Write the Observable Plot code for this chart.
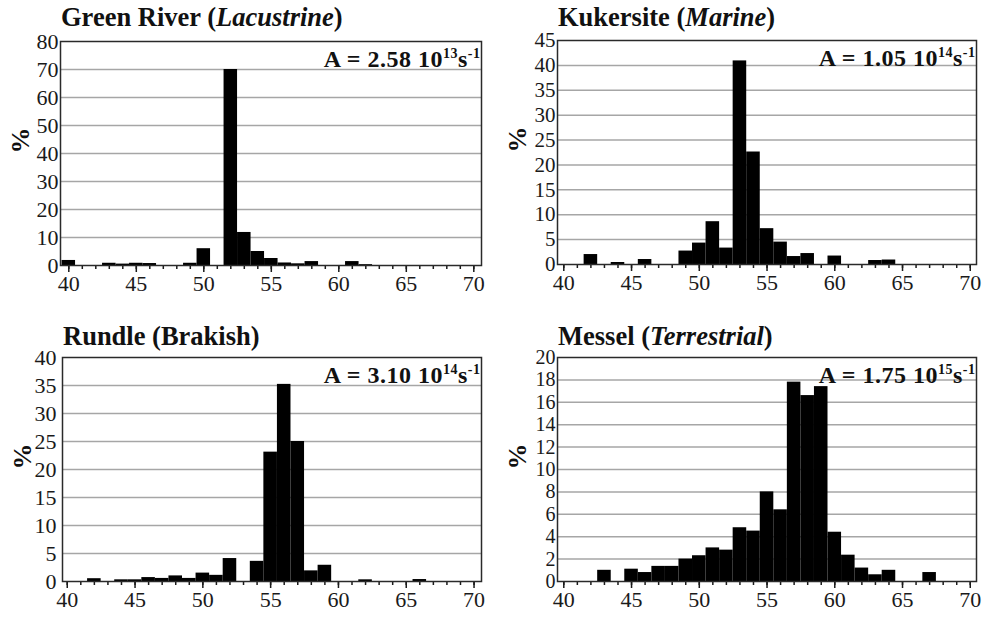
<!DOCTYPE html>
<html>
<head>
<meta charset="utf-8">
<script src="https://cdn.jsdelivr.net/npm/d3@7"></script>
<script src="https://cdn.jsdelivr.net/npm/@observablehq/plot@0.6"></script>
<style>
  html, body { margin: 0; padding: 0; background: #fff; }
  #page { position: relative; width: 984px; height: 619px; overflow: hidden; font-family: "Liberation Serif", "Times New Roman", serif; }
  .panel { position: absolute; width: 492px; }
  .panel svg, .panel svg text, .panel svg tspan { font-family: "Liberation Serif", "Times New Roman", serif !important; font-variant: normal !important; font-variant-numeric: normal !important; }
  .title { position: absolute; font-size: 26.5px; font-weight: bold; line-height: 27px; color: #111; white-space: nowrap; }
</style>
</head>
<body>
<div id="page"></div>
<script>
// ---- Data ----
const greenRiverBins = [40, 43, 44, 45, 46, 49, 50, 52, 53, 54, 55, 56, 57, 58, 61, 62];
const greenRiverPct  = [1.8, 0.8, 0.5, 0.8, 0.7, 0.8, 6.0, 70.0, 11.8, 5.0, 2.5, 0.9, 0.6, 1.4, 1.4, 0.3];

const kukersiteBins = [42, 44, 46, 49, 50, 51, 52, 53, 54, 55, 56, 57, 58, 60, 63, 64];
const kukersitePct  = [2.0, 0.4, 1.0, 2.7, 4.3, 8.6, 3.3, 40.9, 22.6, 7.2, 4.5, 1.6, 2.2, 1.7, 0.8, 0.9];

const rundleBins = [42, 44, 45, 46, 47, 48, 49, 50, 51, 52, 54, 55, 56, 57, 58, 59, 62, 66];
const rundlePct  = [0.5, 0.3, 0.3, 0.7, 0.55, 1.0, 0.55, 1.5, 1.1, 4.1, 3.6, 23.1, 35.2, 25.0, 1.9, 2.9, 0.3, 0.35];

const messelBins = [43, 45, 46, 47, 48, 49, 50, 51, 52, 53, 54, 55, 56, 57, 58, 59, 60, 61, 62, 63, 64, 67];
const messelPct  = [1.0, 1.1, 0.8, 1.35, 1.35, 2.0, 2.3, 3.0, 2.8, 4.8, 4.5, 8.0, 6.4, 17.8, 16.6, 17.4, 4.4, 2.35, 1.2, 0.6, 1.0, 0.8];

const titles   = ["Green River", "Kukersite", "Rundle", "Messel"];
const subtitles = ["Lacustrine", "Marine", "Brakish", "Terrestrial"];
const subItalic = [true, true, false, true];
const aMantissa = ["2.58", "1.05", "3.10", "1.75"];
const aExponent = ["13", "14", "14", "15"];
const yMax   = [80, 45, 40, 20];
const yStep  = [10, 5, 5, 2];
const xMajorTicks = [40, 45, 50, 55, 60, 65, 70];
const xMinorTicks = d3.range(40, 71, 1);

// ---- Layout (positions / margins) ----
const FONT = "'Liberation Serif', 'Times New Roman', serif";
const panels = [
  {bins: greenRiverBins, pct: greenRiverPct, left: 0,   top: 0,   mt: 41, mb: 40, ml: 60, mr: 11, xd: [39.385, 70.57], titleTop: 4,  yFont: 22, yPad: 2},
  {bins: kukersiteBins,  pct: kukersitePct,  left: 492, top: 0,   mt: 40, mb: 41, ml: 65, mr: 8,  xd: [39.535, 70.46], titleTop: 4,  yFont: 21, yPad: 2},
  {bins: rundleBins,     pct: rundlePct,     left: 0,   top: 310, mt: 47, mb: 34, ml: 62, mr: 11, xd: [39.65, 70.55],  titleTop: 13, yFont: 22, yPad: 6},
  {bins: messelBins,     pct: messelPct,     left: 492, top: 310, mt: 47, mb: 34, ml: 65, mr: 8,  xd: [39.535, 70.46], titleTop: 13, yFont: 20, yPad: 2}
];

const page = document.getElementById("page");

panels.forEach((p, i) => {
  const data = p.bins.map((b, j) => ({bin: b, pct: p.pct[j]}));
  const div = document.createElement("div");
  div.className = "panel";
  div.style.left = p.left + "px";
  div.style.top = p.top + "px";
  page.appendChild(div);

  const yTicks = d3.range(0, yMax[i] + 0.001, yStep[i]);
  const aLabel = `A = ${aMantissa[i]} 10`;

  const svg = Plot.plot({
    width: 492,
    height: 305,
    marginTop: p.mt,
    marginBottom: p.mb,
    marginLeft: p.ml,
    marginRight: p.mr,
    style: {fontFamily: FONT, fontSize: "22px", color: "#1a1a1a", background: "white"},
    x: {domain: p.xd},
    y: {domain: [0, yMax[i]]},
    marks: [
      Plot.gridY(yTicks.slice(1, -1), {stroke: "#a6a6a6", strokeOpacity: 1, strokeWidth: 1.5}),
      Plot.rectY(data, {x1: d => d.bin - 0.5, x2: d => d.bin + 0.5, y: "pct", fill: "black"}),
      Plot.axisY(yTicks, {tickSize: 0, tickPadding: p.yPad, fontSize: p.yFont, fontFamily: FONT, fontVariant: "normal", label: null}),
      Plot.axisX(xMinorTicks, {tickSize: 4, strokeWidth: 1.5, text: null, label: null}),
      Plot.axisX(xMajorTicks, {tickSize: 7, tickPadding: 3, strokeWidth: 1.5, fontSize: 22, fontFamily: FONT, fontVariant: "normal", label: null}),
      Plot.frame({stroke: "#2a2a2a", strokeWidth: 1.5}),
      Plot.text(["%"], {frameAnchor: "left", dx: -40, rotate: -90, fontWeight: "bold", fontSize: 26, fontFamily: FONT, fill: "#111"}),
      Plot.text([aLabel], {frameAnchor: "top-right", textAnchor: "end", lineAnchor: "top", dx: -1, dy: 8, fontWeight: "bold", fontSize: 24, fontFamily: FONT, fill: "#111"})
    ]
  });
  div.appendChild(svg);

  // make sure every SVG text uses the serif family
  d3.select(svg).selectAll("text").attr("font-family", FONT).attr("font-variant", null).style("font-family", FONT);

  // add superscripts to the A label
  d3.select(svg).selectAll("text").filter(function () { return this.textContent === aLabel; }).each(function () {
    const t = d3.select(this);
    t.text(null).attr("letter-spacing", 0.5);
    t.append("tspan").text(aLabel);
    t.append("tspan").attr("dy", -9).attr("font-size", 14).text(aExponent[i]);
    t.append("tspan").attr("dy", 9).text("s");
    t.append("tspan").attr("dy", -9).attr("font-size", 14).text("-1");
  });

  // title
  const title = document.createElement("div");
  title.className = "title";
  title.style.left = (p.left + p.ml + 1) + "px";
  title.style.top = (p.top + p.titleTop) + "px";
  title.innerHTML = `${titles[i]} (` + (subItalic[i] ? `<i>${subtitles[i]}</i>` : subtitles[i]) + `)`;
  page.appendChild(title);
});
</script>
</body>
</html>
